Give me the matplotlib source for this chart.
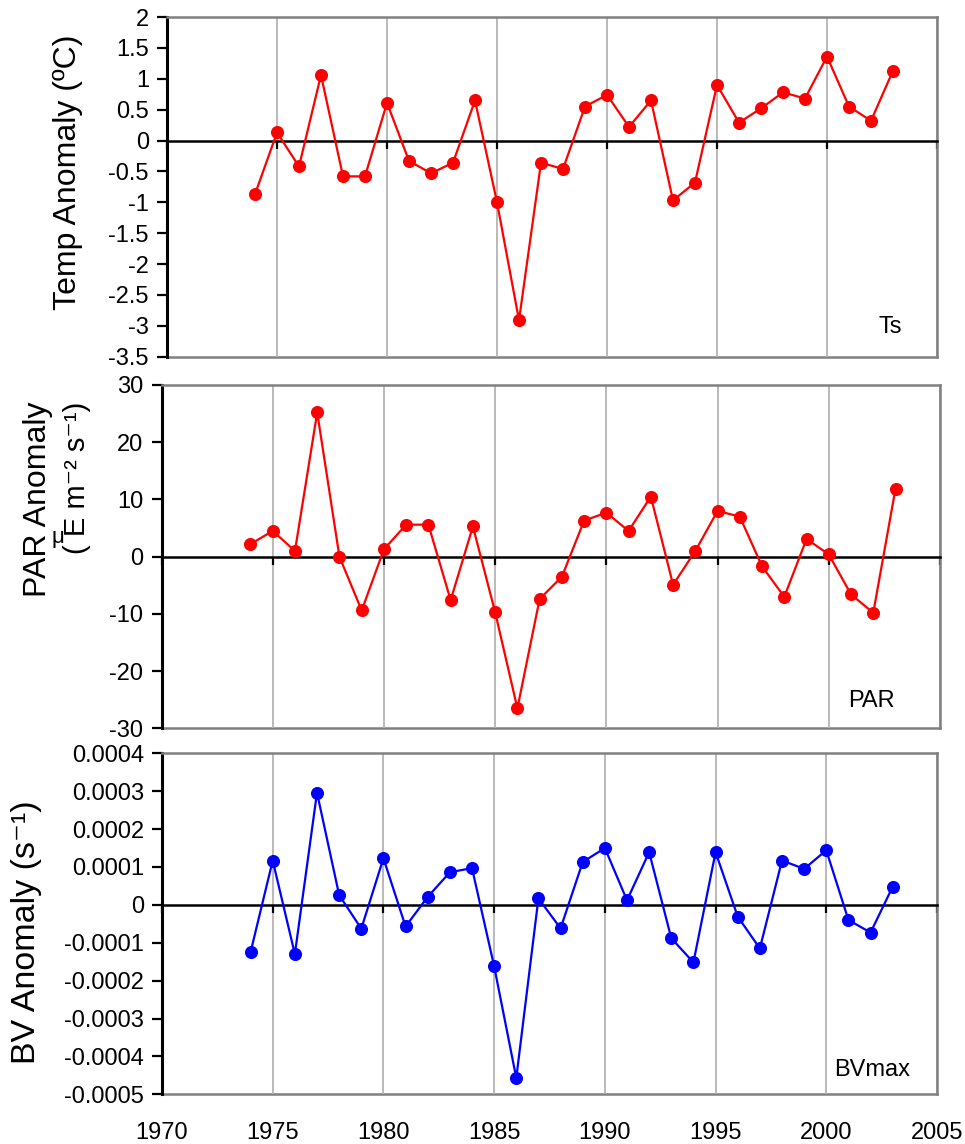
import matplotlib
matplotlib.use("Agg")
import matplotlib.pyplot as plt
from matplotlib.ticker import FixedLocator, FuncFormatter

plt.rcParams['font.family'] = ['Liberation Sans', 'DejaVu Sans']
plt.rcParams['axes.unicode_minus'] = False

# ---- data -------------------------------------------------------------
years = list(range(1974, 2004))

temp_anomaly = [-0.87, 0.13, -0.42, 1.06, -0.58, -0.58, 0.61, -0.33, -0.53, -0.36,
                0.65, -1.00, -2.91, -0.36, -0.46, 0.55, 0.74, 0.22, 0.65, -0.97,
                -0.68, 0.90, 0.29, 0.52, 0.78, 0.68, 1.36, 0.55, 0.32, 1.13]

par_anomaly = [2.2, 4.5, 1.0, 25.2, 0.0, -9.4, 1.3, 5.6, 5.6, -7.6,
               5.3, -9.7, -26.5, -7.4, -3.5, 6.3, 7.7, 4.5, 10.5, -4.9,
               1.0, 8.0, 7.0, -1.7, -7.0, 3.1, 0.4, -6.6, -9.8, 11.9]

bv_anomaly = [-0.000125, 0.000117, -0.000130, 0.000296, 0.000026, -0.000063,
              0.000123, -0.000057, 0.000021, 0.000086, 0.000097, -0.000162,
              -0.000457, 0.000017, -0.000062, 0.000113, 0.000150, 0.000012,
              0.000139, -0.000088, -0.000152, 0.000139, -0.000031, -0.000115,
              0.000117, 0.000095, 0.000144, -0.000040, -0.000073, 0.000048]

year_ticks = [1970, 1975, 1980, 1985, 1990, 1995, 2000, 2005]
temp_ticks = [-3.5, -3, -2.5, -2, -1.5, -1, -0.5, 0, 0.5, 1, 1.5, 2]
par_ticks = [-30, -20, -10, 0, 10, 20, 30]
bv_ticks = [-0.0005, -0.0004, -0.0003, -0.0002, -0.0001, 0, 0.0001, 0.0002, 0.0003, 0.0004]

panel_names = ["Ts", "PAR", "BVmax"]

# ---- figure -------------------------------------------------------------
W, H = 965, 1144
fig = plt.figure(figsize=(W / 100, H / 100), dpi=100)


def px_box(left, top, right, bottom):
    return [left / W, 1 - bottom / H, (right - left) / W, (bottom - top) / H]


ax_t = fig.add_axes(px_box(167, 17, 937, 356.7))
ax_p = fig.add_axes(px_box(161.5, 385, 940, 728.4))
ax_b = fig.add_axes(px_box(162, 753.3, 937, 1094.3))

GREY = '#808080'
GRID = '#b4b4b4'
TICK_FS = 17


def style(ax, yvals, ylim, yticks, color, fmt, show_xlabels):
    ax.plot(years, yvals, color=color, lw=1.6, marker='o', ms=8.4,
            mec=color, mfc=color, zorder=3, clip_on=False)
    ax.set_xlim(1970, 2005)
    ax.set_ylim(*ylim)
    ax.set_axisbelow(True)
    ax.xaxis.set_major_locator(FixedLocator(year_ticks))
    ax.grid(axis='x', color=GRID, lw=1.3)
    ax.grid(axis='y', visible=False)

    # horizontal axis crosses at zero
    ax.spines['bottom'].set_position(('data', 0))
    ax.spines['bottom'].set_color('black')
    ax.spines['bottom'].set_linewidth(1.8)
    ax.spines['bottom'].set_zorder(2.6)
    ax.tick_params(axis='x', direction='out', length=6, width=1.6,
                   color='black', labelbottom=False)

    ax.spines['left'].set_color('black')
    ax.spines['left'].set_linewidth(2.2)
    for s in ('top', 'right'):
        ax.spines[s].set_color(GREY)
        ax.spines[s].set_linewidth(1.8)

    ax.yaxis.set_major_locator(FixedLocator(yticks))
    ax.yaxis.set_major_formatter(FuncFormatter(fmt))
    ax.tick_params(axis='y', direction='out', length=7, width=1.6,
                   color='black', labelsize=TICK_FS, pad=6)

    # plot-area frame along the bottom, carrying the year labels
    sec = ax.secondary_xaxis('bottom')
    sec.set_xticks(year_ticks)
    sec.spines['bottom'].set_color(GREY)
    sec.spines['bottom'].set_linewidth(1.8)
    sec.tick_params(length=0, pad=20, labelsize=TICK_FS,
                    labelbottom=show_xlabels)
    if not show_xlabels:
        sec.set_xticklabels([])
    return ax


def fmt_g(v, pos):
    return "0" if abs(v) < 1e-12 else f"{v:g}"


def fmt_bv(v, pos):
    return "0" if abs(v) < 1e-12 else f"{v:.4f}"


style(ax_t, temp_anomaly, (-3.5, 2), temp_ticks, '#ff0000', fmt_g, False)
style(ax_p, par_anomaly, (-30, 30), par_ticks, '#ff0000', fmt_g, False)
style(ax_b, bv_anomaly, (-0.0005, 0.0004), bv_ticks, '#0000ff', fmt_bv, True)

# ---- axis titles -------------------------------------------------------


def ftext(x, y, s, **kw):
    fig.text(x / W, 1 - y / H, s, ha='center', va='center', **kw)


ftext(68, 172, "Temp Anomaly (ºC)", rotation=90, fontsize=23)
ftext(38, 499, "PAR Anomaly", rotation=90, fontsize=23)
ftext(77, 478, "( E m⁻² s⁻¹)", rotation=90, fontsize=21)
ftext(58, 538, "μ", fontsize=16)
ftext(27, 932, "BV Anomaly (s⁻¹)", rotation=90, fontsize=24.5)

# ---- panel tags --------------------------------------------------------
ftext(890, 327, panel_names[0], fontsize=17)
ftext(871, 701, panel_names[1], fontsize=17)
ftext(872, 1070, panel_names[2], fontsize=17)

fig.savefig("out.png", dpi=100)
